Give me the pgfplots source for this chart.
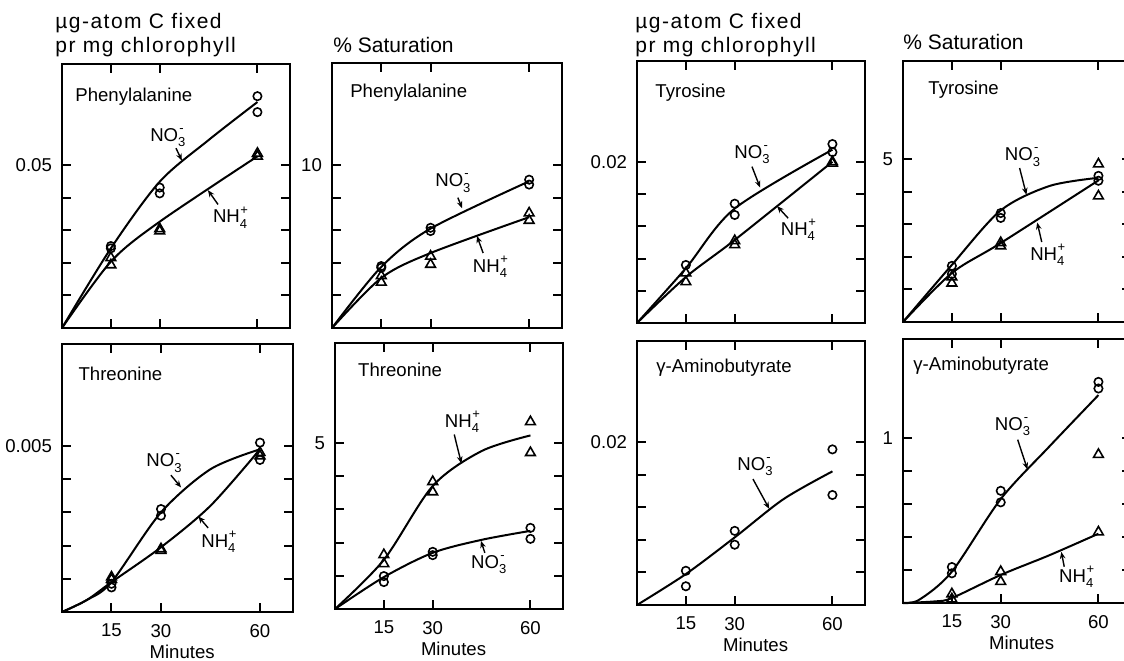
\documentclass[border=0pt]{standalone}
\usepackage{fontspec}
\setmainfont{Liberation Sans}
\newfontfamily\hdfont[LetterSpace=7]{Liberation Sans}
\usepackage{pgfplots}
\pgfplotsset{compat=1.18}
\usetikzlibrary{arrows.meta}
\newcommand\fs{\fontsize{9.3pt}{11pt}\selectfont}
\newcommand\hd{\hdfont\fontsize{10.5pt}{12pt}\selectfont}
\newcommand\sm{\fontsize{6.5pt}{7pt}\selectfont}
\newcommand\nothree{NO\rlap{\raisebox{0.9ex}{\sm\kern0.6pt-}}\raisebox{-0.55ex}{\sm 3}}
\newcommand\nhfour{NH\rlap{\raisebox{0.9ex}{\sm\kern0.3pt+}}\raisebox{-0.55ex}{\sm 4}}
\pgfplotsset{
  panel/.style={scale only axis, clip=false, xmin=0, xmax=70, ymin=0,
    scaled y ticks=false, scaled x ticks=false,
    xtick={15,30,60}, xticklabels={}, tick align=inside,
    xtick pos=both, ytick pos=both, xticklabel pos=lower, yticklabel pos=left,
    major tick length=4.5pt, axis line style={line width=1.2pt},
    every tick/.style={black, line width=1pt},
    tick label style={font=\fs}, /pgf/number format/assume math mode=true,
    yticklabel style={xshift=-1.5pt},
    anchor=south west},
  botrow/.style={xticklabels={15,30,60}, xticklabel style={yshift=-2.5pt}},
  no3/.style={only marks, mark=o, mark size=2.1pt, mark options={line width=0.8pt, black}},
  nh4/.style={only marks, mark=triangle, mark size=2.8pt, mark options={line width=0.8pt, black}},
  crv/.style={smooth, no marks, line width=1pt, black},
}
\tikzset{arr/.style={-{Stealth[length=3.5pt,width=2.8pt]}, line width=0.7pt},
  ttl/.style={anchor=west, inner sep=0pt, font=\fs}}
\begin{document}
\begin{tikzpicture}
\useasboundingbox (0,0) rectangle (562pt,330pt);
\clip (0,0) rectangle (562pt,330pt);

% axis titles
\node[anchor=west, inner sep=0pt, font=\hd] at (27.5pt,318.5pt) {µg-atom C fixed};
\node[anchor=west, inner sep=0pt, font=\hd] at (27.5pt,306.5pt) {pr mg chlorophyll};
\node[anchor=west, inner sep=0pt, font=\fontsize{10.5pt}{12pt}\selectfont] at (166.5pt,307.5pt) {\% Saturation};
\node[anchor=west, inner sep=0pt, font=\hd] at (317.5pt,318.5pt) {µg-atom C fixed};
\node[anchor=west, inner sep=0pt, font=\hd] at (317.5pt,306.5pt) {pr mg chlorophyll};
\node[anchor=west, inner sep=0pt, font=\fontsize{10.5pt}{12pt}\selectfont] at (451.5pt,309pt) {\% Saturation};

% ---------- P1 top: Phenylalanine, ug
\begin{axis}[panel, at={(31pt,166pt)}, width=114pt, height=132pt, ymax=0.0812,
  ytick={0.01,0.02,0.03,0.04,0.05}, yticklabels={,,,,0.05}]
\addplot[crv] coordinates {(0,0) (15,0.0245) (30,0.045) (45,0.0578) (60,0.0695)};
\addplot[crv] coordinates {(0,0) (15,0.0204) (30,0.0327) (60,0.0528)};
\addplot[no3] coordinates {(15,0.0252) (15,0.0245) (30,0.0432) (30,0.0414) (60,0.0713) (60,0.0664)};
\addplot[nh4] coordinates {(15,0.0216) (15,0.0194) (30,0.0305) (30,0.0298) (60,0.0537) (60,0.0528)};
\node[ttl] at (rel axis cs:0.057,0.875) {Phenylalanine};
\node[font=\fs] at (axis cs:32.5,0.0586) {\nothree};
\draw[arr] (axis cs:35,0.0553) -- (axis cs:36.8,0.0515);
\node[font=\fs] at (axis cs:51.6,0.034) {\nhfour};
\draw[arr] (axis cs:47.9,0.038) -- (axis cs:44.8,0.0424);
\end{axis}

% ---------- P2 top: Phenylalanine, %
\begin{axis}[panel, at={(166pt,166pt)}, width=115pt, height=132.5pt, ymax=16.26,
  ytick={2,4,6,8,10}, yticklabels={,,,,10}]
\addplot[crv] coordinates {(0,0) (15,3.75) (30,6.1) (60,9.0)};
\addplot[crv] coordinates {(0,0) (15,3.07) (30,4.6) (60,6.8)};
\addplot[no3] coordinates {(15,3.8) (15,3.7) (30,6.15) (30,5.95) (60,9.1) (60,8.8)};
\addplot[nh4] coordinates {(15,3.2) (15,2.8) (30,4.4) (30,3.9) (60,7.05) (60,6.6)};
\node[ttl] at (rel axis cs:0.078,0.887) {Phenylalanine};
\node[font=\fs] at (axis cs:36.8,8.9) {\nothree};
\draw[arr] (axis cs:38.3,8.0) -- (axis cs:39.6,7.35);
\node[font=\fs] at (axis cs:48.1,3.74) {\nhfour};
\draw[arr] (axis cs:46,4.6) -- (axis cs:44.1,5.65);
\end{axis}

% ---------- P3 top: Tyrosine, ug
\begin{axis}[panel, at={(318.5pt,168.5pt)}, width=114pt, height=131pt, ymax=0.0325,
  ytick={0.004,0.008,0.012,0.016,0.02}, yticklabels={,,,,0.02}]
\addplot[crv] coordinates {(0,0) (15,0.0068) (30,0.0142) (60,0.0215)};
\addplot[crv] coordinates {(0,0) (15,0.0057) (30,0.0103) (60,0.0200)};
\addplot[no3] coordinates {(15,0.0072) (30,0.0148) (30,0.0134) (60,0.0222) (60,0.0212)};
\addplot[nh4] coordinates {(15,0.0062) (15,0.0051) (30,0.0102) (30,0.0097) (60,0.0200) (60,0.0198)};
\node[ttl] at (rel axis cs:0.079,0.878) {Tyrosine};
\node[font=\fs] at (axis cs:35.3,0.0209) {\nothree};
\draw[arr] (axis cs:35.3,0.0194) -- (axis cs:37.8,0.0168);
\node[font=\fs] at (axis cs:49.4,0.01155) {\nhfour};
\draw[arr] (axis cs:46.4,0.013) -- (axis cs:43,0.0145);
\end{axis}

% ---------- P4 top: Tyrosine, %
\begin{axis}[panel, at={(451.5pt,169pt)}, width=114pt, height=130.5pt, ymax=8.0,
  ytick={1,2,3,4,5}, yticklabels={,,,,5}]
\addplot[crv] coordinates {(0,0) (15,1.75) (30,3.42) (45,4.17) (60,4.42)};
\addplot[crv] coordinates {(0,0) (15,1.5) (30,2.42) (60,4.34)};
\addplot[no3] coordinates {(15,1.72) (15,1.47) (30,3.34) (30,3.19) (60,4.48) (60,4.33)};
\addplot[nh4] coordinates {(15,1.38) (15,1.19) (30,2.43) (30,2.33) (60,4.84) (60,3.86)};
\node[ttl] at (rel axis cs:0.11,0.889) {Tyrosine};
\node[font=\fs] at (axis cs:36.7,5.06) {\nothree};
\draw[arr] (axis cs:35.8,4.72) -- (axis cs:37.9,3.9);
\node[font=\fs] at (axis cs:44.3,2.05) {\nhfour};
\draw[arr] (axis cs:42.6,2.45) -- (axis cs:41.2,3.05);
\end{axis}

% ---------- P1 bottom: Threonine, ug
\begin{axis}[panel, botrow, at={(31pt,24pt)}, width=115.5pt, height=134pt, ymax=0.00807,
  ytick={0.001,0.002,0.003,0.004,0.005}, yticklabels={,,,,0.005}]
\addplot[crv] coordinates {(0,0) (7.5,0.00036) (15,0.0009) (30,0.003) (45,0.0043) (60,0.0049)};
\addplot[crv] coordinates {(0,0) (7.5,0.00036) (15,0.0009) (30,0.00195) (45,0.0032) (60,0.0049)};
\addplot[no3] coordinates {(15,0.00085) (15,0.00074) (30,0.0031) (30,0.0029) (60,0.0051) (60,0.00458)};
\addplot[nh4] coordinates {(15,0.00105) (15,0.00098) (30,0.0019) (30,0.00185) (60,0.0048) (60,0.0047)};
\node[ttl] at (rel axis cs:0.07,0.89) {Threonine};
\node[font=\fs] at (rel axis cs:0.52,0) [yshift=-20pt] {Minutes};
\node[font=\fs] at (axis cs:30.9,0.00449) {\nothree};
\draw[arr] (axis cs:33,0.00412) -- (axis cs:36.1,0.00375);
\node[font=\fs] at (axis cs:47.4,0.00211) {\nhfour};
\draw[arr] (axis cs:44.3,0.00253) -- (axis cs:41.3,0.00288);
\end{axis}

% ---------- P2 bottom: Threonine, %
\begin{axis}[panel, botrow, at={(167.5pt,25.5pt)}, width=114pt, height=133pt, ymax=8.0,
  ytick={1,2,3,4,5}, yticklabels={,,,,5}]
\addplot[crv] coordinates {(0,0) (15,1.48) (30,3.7) (45,4.75) (60,5.22)};
\addplot[crv] coordinates {(0,0) (15,0.96) (30,1.69) (45,2.08) (60,2.35)};
\addplot[nh4] coordinates {(15,1.63) (15,1.36) (30,3.83) (30,3.52) (60,5.63) (60,4.7)};
\addplot[no3] coordinates {(15,0.99) (15,0.81) (30,1.72) (30,1.62) (60,2.44) (60,2.11)};
\node[ttl] at (rel axis cs:0.1,0.898) {Threonine};
\node[font=\fs] at (rel axis cs:0.52,0) [yshift=-20pt] {Minutes};
\node[font=\fs] at (axis cs:39,5.63) {\nhfour};
\draw[arr] (axis cs:36.6,5.25) -- (axis cs:38.8,4.38);
\node[font=\fs] at (axis cs:47.2,1.33) {\nothree};
\draw[arr] (axis cs:46,1.69) -- (axis cs:44.8,2.05);
\end{axis}

% ---------- P3 bottom: gamma-Aminobutyrate, ug
\begin{axis}[panel, botrow, at={(318.5pt,27.5pt)}, width=114pt, height=132pt, ymax=0.0324,
  ytick={0.004,0.008,0.012,0.016,0.02}, yticklabels={,,,,0.02}]
\addplot[crv] coordinates {(0,0) (15,0.0038) (30,0.0083) (45,0.013) (60,0.0164)};
\addplot[no3] coordinates {(15,0.0042) (15,0.0023) (30,0.0091) (30,0.0074) (60,0.0191) (60,0.0135)};
\node[ttl] at (rel axis cs:0.083,0.90) {γ-Aminobutyrate};
\node[font=\fs] at (rel axis cs:0.52,0) [yshift=-20pt] {Minutes};
\node[font=\fs] at (axis cs:36.2,0.01696) {\nothree};
\draw[arr] (axis cs:35.6,0.01546) -- (axis cs:40.6,0.0118);
\end{axis}

% ---------- P4 bottom: gamma-Aminobutyrate, %
\begin{axis}[panel, botrow, at={(451.5pt,28.5pt)}, width=114pt, height=132pt, ymax=1.6,
  ytick={0.2,0.4,0.6,0.8,1}, yticklabels={,,,,1}]
\addplot[crv] coordinates {(0,0) (5,0.02) (15,0.19) (30,0.63) (45,0.95) (60,1.26)};
\addplot[crv] coordinates {(0,0) (10,0.01) (15,0.03) (30,0.17) (45,0.29) (60,0.42)};
\addplot[no3] coordinates {(15,0.218) (15,0.18) (30,0.68) (30,0.61) (60,1.34) (60,1.30)};
\addplot[nh4] coordinates {(15,0.055) (15,0.024) (30,0.19) (30,0.13) (60,0.90) (60,0.43)};
\node[ttl] at (rel axis cs:0.044,0.90) {γ-Aminobutyrate};
\node[font=\fs] at (rel axis cs:0.52,0) [yshift=-20pt] {Minutes};
\node[font=\fs] at (axis cs:33.6,1.07) {\nothree};
\draw[arr] (axis cs:35.2,0.99) -- (axis cs:38.2,0.81);
\node[font=\fs] at (axis cs:53.2,0.158) {\nhfour};
\draw[arr] (axis cs:49.5,0.22) -- (axis cs:48.6,0.31);
\end{axis}
\end{tikzpicture}
\end{document}
